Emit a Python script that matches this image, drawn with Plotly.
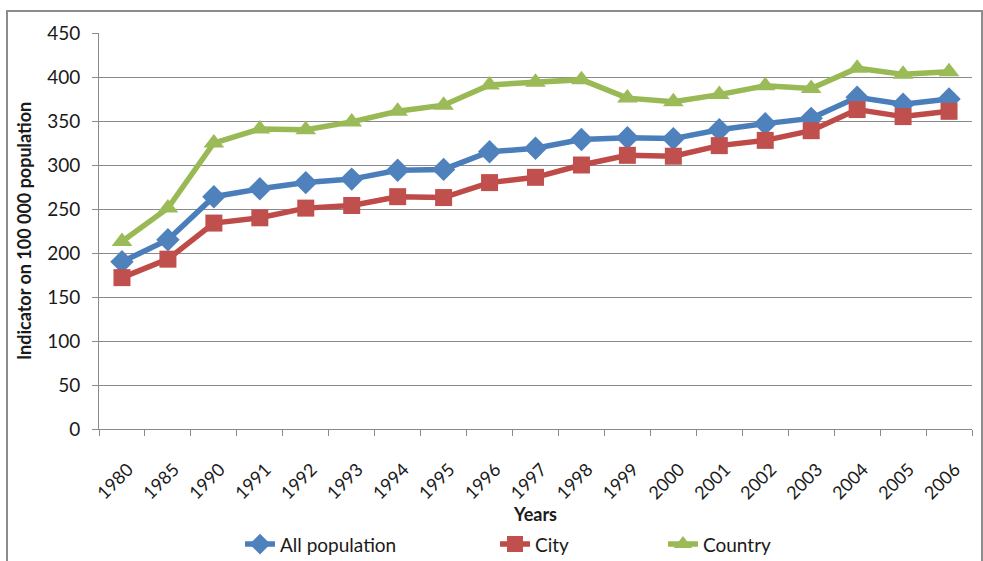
import plotly.graph_objects as go

years = ["1980", "1985", "1990", "1991", "1992", "1993", "1994", "1995", "1996", "1997",
         "1998", "1999", "2000", "2001", "2002", "2003", "2004", "2005", "2006"]
all_population = [190, 215, 264, 273, 280, 284, 294, 295, 315, 319,
                  329, 331, 330, 340, 347, 353, 377, 369, 375]
city = [172, 193, 234, 240, 251, 254, 264, 263, 280, 286,
        300, 311, 310, 322, 328, 339, 363, 355, 361]
country = [213, 251, 325, 341, 340, 349, 361, 368, 391, 394,
           397, 376, 372, 380, 390, 387, 410, 403, 406]

FONT = "Lato"
TXT = "#1a1a1a"
GRID = "#8a8a8a"

fig = go.Figure()
fig.add_trace(go.Scatter(
    x=years, y=all_population, name="All population", mode="lines+markers",
    line=dict(color="#4A7EBB", width=5.5),
    marker=dict(symbol="diamond", size=18, color="#4F81BD", line=dict(width=0)),
    legend="legend", showlegend=True))
fig.add_trace(go.Scatter(
    x=years, y=city, name="City", mode="lines+markers",
    line=dict(color="#BE4B48", width=5.5),
    marker=dict(symbol="square", size=17, color="#C0504D", line=dict(width=0)),
    legend="legend2", showlegend=True))
fig.add_trace(go.Scatter(
    x=years, y=country, name="Country", mode="lines+markers",
    line=dict(color="#98B954", width=5.5),
    marker=dict(symbol="triangle-up", size=18, color="#9BBB59", line=dict(width=0)),
    legend="legend3", showlegend=True))

legend_common = dict(orientation="h", yanchor="middle", xanchor="left",
                     font=dict(family=FONT, size=19, color=TXT),
                     bgcolor="rgba(0,0,0,0)")

fig.update_layout(
    width=983, height=561,
    margin=dict(l=99, r=11, t=33, b=132, autoexpand=False),
    paper_bgcolor="white", plot_bgcolor="white",
    font=dict(family=FONT, color=TXT),
    showlegend=True,
    xaxis=dict(
        type="category", tickangle=-45, tickson="boundaries",
        range=[-0.5, len(years) - 0.5],
        ticks="outside", ticklen=6, tickcolor=GRID,
        showline=True, linecolor=GRID, linewidth=1,
        showgrid=False, automargin=False,
        tickfont=dict(family=FONT, size=18, color=TXT),
        ticklabelstandoff=22, ticklabelshift=6,
        title=dict(text="<b>Years</b>", font=dict(family=FONT, size=18, color=TXT), standoff=0),
    ),
    yaxis=dict(
        range=[0, 450], dtick=50, tick0=0,
        ticks="outside", ticklen=6, tickcolor=GRID,
        showline=True, linecolor=GRID, linewidth=1,
        showgrid=True, gridcolor=GRID, gridwidth=1,
        zeroline=False, automargin=False,
        tickfont=dict(family=FONT, size=19, color=TXT),
        ticklabelstandoff=8,
        title=dict(text="<b>Indicator on 100 000 population</b>",
                   font=dict(family=FONT, size=18, color=TXT), standoff=10),
    ),
    legend=dict(x=(240 - 99) / 873, y=-0.291, **legend_common),
    legend2=dict(x=(495 - 99) / 873, y=-0.291, **legend_common),
    legend3=dict(x=(663 - 99) / 873, y=-0.291, **legend_common),
    shapes=[dict(type="rect", xref="paper", yref="paper",
                 x0=(7 - 99) / 873, x1=(982 - 99) / 873,
                 y0=-0.4, y1=1 + (33 - 11) / 396,
                 line=dict(color="#8c8c8c", width=2), fillcolor="rgba(0,0,0,0)",
                 layer="below")],
)

fig.write_html("out.html")
